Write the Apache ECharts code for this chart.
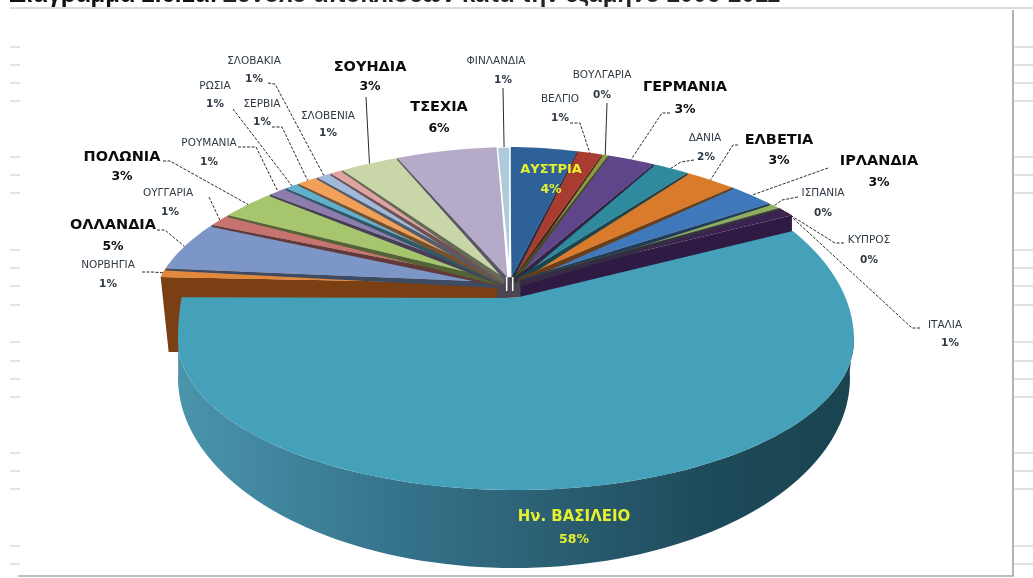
<!DOCTYPE html>
<html>
<head>
<meta charset="utf-8">
<script src="https://cdn.jsdelivr.net/npm/echarts@6/dist/echarts.min.js"></script>
<style>
html,body{margin:0;padding:0;background:#fff;overflow:hidden}
#c{width:1033px;height:578px;filter:blur(0.45px)}
</style>
</head>
<body>
<div id="c"></div>
<script>
// ---- data ----
const countries = ['ΑΥΣΤΡΙΑ','ΒΕΛΓΙΟ','ΒΟΥΛΓΑΡΙΑ','ΓΕΡΜΑΝΙΑ','ΔΑΝΙΑ','ΕΛΒΕΤΙΑ','ΙΡΛΑΝΔΙΑ','ΙΣΠΑΝΙΑ','ΚΥΠΡΟΣ','ΙΤΑΛΙΑ','Ην. ΒΑΣΙΛΕΙΟ','ΝΟΡΒΗΓΙΑ','ΟΛΛΑΝΔΙΑ','ΟΥΓΓΑΡΙΑ','ΠΟΛΩΝΙΑ','ΡΟΥΜΑΝΙΑ','ΡΩΣΙΑ','ΣΕΡΒΙΑ','ΣΛΟΒΑΚΙΑ','ΣΛΟΒΕΝΙΑ','ΣΟΥΗΔΙΑ','ΤΣΕΧΙΑ','ΦΙΝΛΑΝΔΙΑ'];
const shares = [3.6,1.2,0.3,2.2,1.7,2.4,2.2,0.6,0.1,0.8,59,1,5,1.2,2.7,0.9,0.7,1,0.7,0.6,2.7,5,0.8];
const shareLabels = ['4%','1%','0%','3%','2%','3%','3%','0%','0%','1%','58%','1%','5%','1%','3%','1%','1%','1%','1%','1%','3%','6%','1%'];
const titleBold = 'Διάγραμμα 2.6.1α:';
const titleRest = 'Σύνολο αποκλίσεων κατά την εξάμηνο 2006-2011';

// ---- styling and layout ----
const sliceColors = ['#2e6198','#a93c30','#8a9a44','#5f4589','#2f8a9e','#d97b2b','#3f79bb','#8fae5e','#6a5a8a','#3b2251','#45a0ba','#e2883c','#7c96c8','#c67370','#a6c56c','#8d7cae','#5fb0cc','#f2a057','#a2b9de','#dfa3a3','#c9d6a8','#b5abc9','#aecbdc'];
const bigNames = {'ΓΕΡΜΑΝΙΑ':1,'ΕΛΒΕΤΙΑ':1,'ΙΡΛΑΝΔΙΑ':1,'ΟΛΛΑΝΔΙΑ':1,'ΠΟΛΩΝΙΑ':1,'ΣΟΥΗΔΙΑ':1,'ΤΣΕΧΙΑ':1};
const yellowSizes = {'ΑΥΣΤΡΙΑ':13,'Ην. ΒΑΣΙΛΕΙΟ':15};
// name centre x, name y, percent centre x, percent y
const labelPlaces = [[551,170,551,190],[560,99,560,118],[602,75,602,95],[685,87,685,110],[705,138,706,157],[779,140,779,161],[879,161,879,183],[823,193,823,213],[869,240,869,260],[945,325,950,343],[574,517,574,540],[108,265,108,284],[113,225,113,247],[168,193,170,212],[122,157,122,177],[209,143,209,162],[215,86,215,104],[262,104,262,122],[254,61,254,79],[328,116,328,133],[370,67,370,87],[439,107,439,129],[496,61,503,80]];
// leader-line start points on the label side
const leaderStarts = [null,[[570,123],[580,123]],[[607,103]],[[670,113],[662,113]],[[694,160],[681,162]],[[738,145],[733,145]],[[828,168]],[[798,197],[782,200]],[[844,243],[835,243]],[[920,328],[912,328]],null,[[142,272],[152,272]],[[157,230],[165,230]],[[209,197]],[[163,161],[170,161]],[[238,147],[256,147]],[[233,109]],[[272,127],[282,127]],[[268,83],[275,84]],null,[[366,97]],null,[[503,88]]];
const gridRows = [47,65,83,101,157,175,193,250,268,286,305,342,361,379,397,453,471,489,546,564];

const ukIndex = countries.indexOf('Ην. ΒΑΣΙΛΕΙΟ');
const PIE = {cx:510,cy:298,rx:355,ry:151,p:1.8};
const UK = {cx:516,cy:340,rx:338,ryUp:190,ryDown:150,start:55,end:283,apex:[515,298]};
const BOTTOM = {cx:514,cy:378,rx:336,ry:190};
const rad = d => d*Math.PI/180;
function shade(hex,k){
  const n=parseInt(hex.slice(1),16);
  return 'rgb('+[(n>>16)&255,(n>>8)&255,n&255].map(c=>Math.round(c*k)).join(',')+')';
}
function rim(t){
  const s=Math.sin(rad(t)),c=Math.cos(rad(t)),e=2/PIE.p;
  return [PIE.cx+PIE.rx*Math.sign(s)*Math.pow(Math.abs(s),e), PIE.cy-PIE.ry*Math.sign(c)*Math.pow(Math.abs(c),e)];
}
function ukRim(t){
  const s=Math.sin(rad(t)),c=Math.cos(rad(t));
  const sx=t>270?-Math.pow(Math.abs(s),0.4):s;
  return [UK.cx+UK.rx*sx, UK.cy-(c>0?UK.ryUp:UK.ryDown)*c];
}
function apexOf(t){ return [510+13*Math.sin(rad(t)), 285-8*Math.cos(rad(t))]; }

// slice angles: before the large slice they run clockwise from the top, after it they run back from the top
const startT=[],endT=[];
let cum=0;
for(let i=0;i<=ukIndex;i++){startT[i]=cum*3.6;cum+=shares[i];endT[i]=cum*3.6;}
let rem=0;
for(let i=shares.length-1;i>ukIndex;i--){endT[i]=360-rem*3.6;rem+=shares[i];startT[i]=360-rem*3.6;}

function renderSlice(params,api){
  const i=params.dataIndex, col=sliceColors[i], kids=[];
  const poly=(pts,fill,z2)=>({type:'polygon',shape:{points:pts},style:{fill:fill},z2:z2,silent:true});
  if(i===ukIndex){
    const top=[UK.apex];
    for(let t=UK.start;t<=UK.end;t+=2) top.push(ukRim(t));
    const side=[];
    for(let t=88;t<=272;t+=2) side.push(ukRim(t));
    for(let t=272;t>=88;t-=2){
      const s=Math.sin(rad(t)),c=Math.cos(rad(t));
      side.push([BOTTOM.cx+BOTTOM.rx*s,BOTTOM.cy-BOTTOM.ry*c]);
    }
    const hubLeft=apexOf(270), hubRight=apexOf(90);
    kids.push(poly([hubLeft,apexOf(320),apexOf(0),apexOf(50),hubRight,[hubRight[0]+10,hubRight[1]+12],[hubLeft[0]-20,hubLeft[1]+14]],'#4b4652',2));
    kids.push(poly(side,new echarts.graphic.LinearGradient(0,0,1,0,[
      {offset:0,color:'#4a94ac'},{offset:0.3,color:'#36768e'},{offset:0.55,color:'#2b5f73'},{offset:0.8,color:'#1d4a59'},{offset:1,color:'#1b4350'}]),30));
    kids.push(poly(top,col,31));
  } else {
    const mid=(startT[i]+endT[i])/2, a=apexOf(mid), pts=[a];
    const n=Math.max(2,Math.ceil((endT[i]-startT[i])/1.5));
    for(let k=0;k<=n;k++) pts.push(rim(startT[i]+(endT[i]-startT[i])*k/n));
    const main=poly(pts,col,5);
    if(countries[i]==='ΦΙΝΛΑΝΔΙΑ'){
      main.z2=8; main.style.stroke='#fff'; main.style.lineWidth=1.5;
      const base=[a[0],a[1]+14];
      kids.push({type:'line',silent:true,z2:8,shape:{x1:a[0]-3,y1:a[1],x2:base[0]-3,y2:base[1]},style:{stroke:'#fff',lineWidth:1.5}});
      kids.push({type:'line',silent:true,z2:8,shape:{x1:a[0]+3,y1:a[1],x2:base[0]+3,y2:base[1]},style:{stroke:'#fff',lineWidth:1.5}});
    }
    kids.push(main);
    const dark=shade(col,0.5);
    const edge=i<ukIndex?rim(endT[i]):rim(startT[i]);
    if(countries[i]==='ΝΟΡΒΗΓΙΑ'){
      kids.push(poly([edge,a,[a[0],a[1]+22],[edge[0]+70,edge[1]+22],[edge[0]+70,edge[1]+75],[edge[0]+8,edge[1]+75]],'#7a3f12',3));
      kids.push(poly(pts,col,6));
    } else if(countries[i]==='ΙΤΑΛΙΑ'){
      kids.push(poly([a,edge,[edge[0],edge[1]+26],[a[0],a[1]+18]],'#2f1a44',6));
    } else if(countries[i]!=='ΦΙΝΛΑΝΔΙΑ'){
      kids.push(poly([a,edge,[edge[0],edge[1]+2],[a[0],a[1]+6]],dark,7));
    }
  }
  return {type:'group',children:kids};
}

function renderLabel(params,api){
  const i=params.dataIndex, n=countries[i], L=labelPlaces[i], kids=[];
  const big=bigNames[n], yel=yellowSizes[n];
  const fill=yel?'#e6f02e':(big?'#0c0c0c':'#2f3a44');
  const fName=yel?('bold '+yel+'px "DejaVu Sans"'):(big?'bold 14.5px "DejaVu Sans"':'10.5px "DejaVu Sans"');
  const fPct=(big||yel)?'bold 12.5px "DejaVu Sans"':'bold 10.5px "DejaVu Sans"';
  kids.push({type:'text',z2:50,silent:true,style:{text:n,x:L[0],y:L[1],align:'center',verticalAlign:'middle',fill:fill,font:fName}});
  kids.push({type:'text',z2:50,silent:true,style:{text:shareLabels[i],x:L[2],y:L[3],align:'center',verticalAlign:'middle',fill:fill,font:fPct}});
  const ls=leaderStarts[i];
  if(ls){
    const end=rim((startT[i]+endT[i])/2);
    const vertical=ls.length===1&&Math.abs(ls[0][0]-end[0])<6;
    kids.push({type:'polyline',z2:40,silent:true,shape:{points:ls.concat([end])},style:{fill:null,stroke:'#2b2b2b',lineWidth:1,lineDash:vertical?null:[3,1.5]}});
  }
  return {type:'group',children:kids};
}

const rows=shares.map((v,i)=>({name:countries[i],value:[v]}));
const gridLines=[];
gridRows.forEach(y=>{
  gridLines.push({type:'line',silent:true,shape:{x1:10,y1:y,x2:20,y2:y},style:{stroke:'#c9c9c9',lineWidth:1}});
  gridLines.push({type:'line',silent:true,shape:{x1:1014,y1:y,x2:1033,y2:y},style:{stroke:'#c4c4c4',lineWidth:1}});
});
const frame=[
  {type:'line',silent:true,shape:{x1:10,y1:8,x2:1033,y2:8},style:{stroke:'#dcdcdc',lineWidth:2}},
  {type:'line',silent:true,shape:{x1:18,y1:576,x2:1014,y2:576},style:{stroke:'#a8a8a8',lineWidth:1.5}},
  {type:'line',silent:true,shape:{x1:1013,y1:10,x2:1013,y2:576},style:{stroke:'#9a9a9a',lineWidth:1.5}}
];

const chart=echarts.init(document.getElementById('c'),null,{renderer:'canvas'});
chart.setOption({
  animation:false,
  backgroundColor:'#fff',
  title:{
    left:9,top:-17,padding:0,
    text:'{b|'+titleBold+'} {r|'+titleRest+'}',
    textStyle:{rich:{
      b:{fontFamily:'Liberation Sans',fontWeight:'bold',fontSize:24,color:'#111'},
      r:{fontFamily:'Liberation Sans',fontSize:24,color:'#222'}
    }}
  },
  tooltip:{show:false},
  graphic:{elements:frame.concat(gridLines)},
  series:[
    {type:'custom',name:'slices',coordinateSystem:'none',silent:true,renderItem:renderSlice,data:rows},
    {type:'custom',name:'labels',coordinateSystem:'none',silent:true,z:5,renderItem:renderLabel,data:rows}
  ]
});
</script>
</body>
</html>
